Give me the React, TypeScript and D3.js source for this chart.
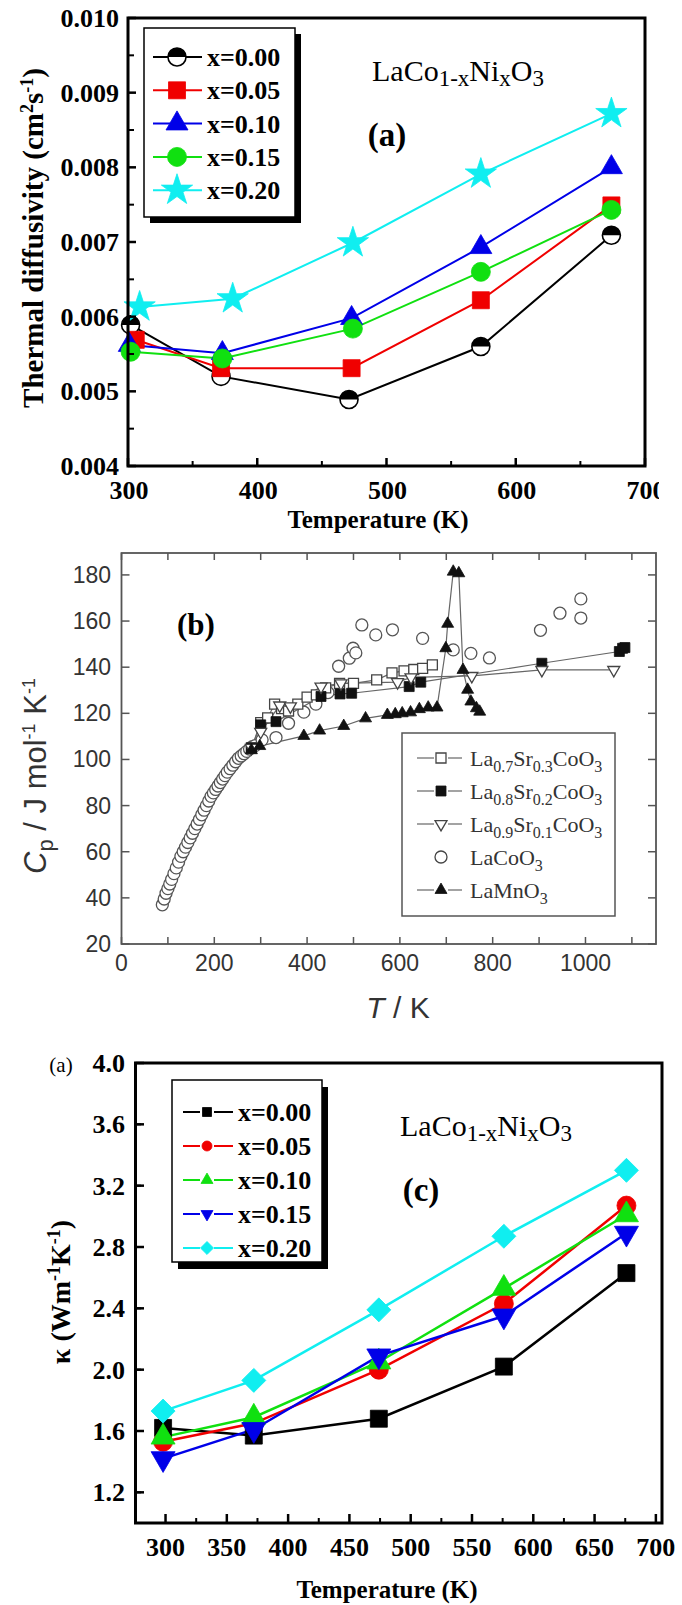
import React from "react";
import * as d3 from "d3";

// ---------- Panel (a): thermal diffusivity ----------
const legendA = ["x=0.00", "x=0.05", "x=0.10", "x=0.15", "x=0.20"];
const tempA00 = [302, 372, 471, 573, 674];
const diffA00 = [0.00589, 0.0052, 0.00489, 0.0056, 0.00709];
const tempA05 = [306, 372, 473, 573, 674];
const diffA05 = [0.00569, 0.00531, 0.00531, 0.00622, 0.00749];
const tempA10 = [301, 373, 473, 573, 674];
const diffA10 = [0.00562, 0.00551, 0.00598, 0.00693, 0.008];
const tempA15 = [302, 373, 474, 573, 674];
const diffA15 = [0.00553, 0.00544, 0.00584, 0.0066, 0.00743];
const tempA20 = [309, 381, 474, 573, 674];
const diffA20 = [0.00613, 0.00624, 0.00699, 0.00791, 0.00872];
const xTicksA = [300, 400, 500, 600, 700];
const yTicksA = [0.004, 0.005, 0.006, 0.007, 0.008, 0.009, 0.01];

// ---------- Panel (b): heat capacity ----------
const legendB = ["La0.7Sr0.3CoO3", "La0.8Sr0.2CoO3", "La0.9Sr0.1CoO3", "LaCoO3", "LaMnO3"];
const tLaCo = [88, 92, 96, 100, 104, 108, 113, 118, 123, 128, 133, 138, 143, 148, 153, 158, 163, 168, 173, 178, 183, 188, 193, 198, 203, 208, 213, 218, 223, 228, 234, 240, 246, 252, 258, 264, 270, 276, 282, 288,
  303, 333, 360, 393, 419, 445, 468, 491, 499, 505, 518, 548, 584, 649, 715, 753, 793, 903, 945, 990, 990];
const cpLaCo = [37, 39.5, 42, 44, 46, 48, 50.5, 53, 55.5, 58, 60, 62, 64, 66, 68, 70, 72, 74, 76, 78, 80, 82, 84, 85.5, 87, 88.5, 90, 91.5, 93, 94.5, 96, 97.5, 99, 100.5, 101.5, 102.5, 103.5, 104.5, 105.5, 106,
  108.5, 109.5, 115.7, 120.5, 124, 129, 140.4, 143.9, 148.2, 146.2, 158.3, 154, 156.2, 152.5, 147.5, 146, 144, 156, 163.4, 161.3, 169.6];
const tSr3 = [280, 300, 315, 330, 345, 360, 380, 400, 420, 440, 470, 500, 550, 583, 609, 630, 649, 670];
const cpSr3 = [105, 116, 118, 124, 122, 121, 124, 127, 128, 131, 133, 133, 134.5, 137.5, 138.4, 139, 139.5, 141];
const tSr2 = [280, 300, 333, 430, 471, 496, 620, 645, 906, 1073, 1080, 1085];
const cpSr2 = [105, 115, 116.4, 127.3, 128.4, 128.7, 131.6, 133.5, 141.7, 146.8, 148.2, 148.5];
const tSr1 = [280, 300, 341, 364, 430, 473, 595, 624, 755, 906, 1061];
const cpSr1 = [105, 112, 123.4, 123, 131.6, 133, 133.5, 135.6, 136.2, 138.8, 138.8];
const tMn = [280, 298, 393, 427, 479, 526, 573, 590, 605, 623, 642, 661, 680, 699, 703, 715, 727, 736, 746, 753, 765, 772];
const cpMn = [104, 105.8, 110.2, 112.5, 114.5, 117.8, 119.3, 119.6, 120, 120.4, 121.8, 122.5, 122.5, 148.2, 158.8, 181.4, 180.7, 138.8, 130.2, 125.1, 122.2, 120.7];
const xTicksB = [0, 100, 200, 300, 400, 500, 600, 700, 800, 900, 1000, 1100];
const xLabelsB = [0, 200, 400, 600, 800, 1000];
const yTicksB = [20, 40, 60, 80, 100, 120, 140, 160, 180];

// ---------- Panel (c): thermal conductivity ----------
const legendC = ["x=0.00", "x=0.05", "x=0.10", "x=0.15", "x=0.20"];
const tempC = [298, 372, 474, 576, 676];
const kC00 = [1.62, 1.57, 1.68, 2.02, 2.63];
const kC05 = [1.53, 1.65, 2.0, 2.43, 3.07];
const kC10 = [1.56, 1.69, 2.05, 2.53, 3.01];
const kC15 = [1.42, 1.61, 2.09, 2.35, 2.89];
const kC20 = [1.73, 1.93, 2.39, 2.87, 3.3];
const xTicksC = [300, 350, 400, 450, 500, 550, 600, 650, 700];
const yTicksC = [1.2, 1.6, 2.0, 2.4, 2.8, 3.2, 3.6, 4.0];

const SERIF = "'Liberation Serif', 'Times New Roman', serif";
const SANS = "'Liberation Sans', Arial, sans-serif";

const RED = "#f00000";
const BLUE = "#0000e8";
const GREEN = "#10e010";
const CYAN = "#10eef0";

type Mk = "halfcircle" | "square" | "triangle" | "circle" | "star" | "diamond" | "down" | "osquare" | "odown" | "ocircle";

function Marker({ kind, x, y, s, color }: { kind: Mk; x: number; y: number; s: number; color: string }) {
  const tr = `translate(${x},${y})`;
  if (kind === "halfcircle") {
    const r = s / 2;
    return (
      <g transform={tr}>
        <circle r={r} fill="#fff" stroke="#000" strokeWidth={1.6} />
        <path d={`M${-r},0 A${r},${r} 0 0 1 ${r},0 Z`} fill="#000" />
      </g>
    );
  }
  const sym: Record<string, any> = {
    square: d3.symbolSquare, osquare: d3.symbolSquare, triangle: d3.symbolTriangle,
    circle: d3.symbolCircle, ocircle: d3.symbolCircle, star: d3.symbolStar,
    diamond: d3.symbolSquare, down: d3.symbolTriangle, odown: d3.symbolTriangle,
  };
  let area = s * s;
  if (kind === "circle" || kind === "ocircle") area = Math.PI * (s / 2) * (s / 2);
  if (kind === "triangle" || kind === "down" || kind === "odown") area = (Math.sqrt(3) / 4) * s * s;
  if (kind === "star") area = s * s * 0.45;
  if (kind === "diamond") area = s * s * 0.5;
  const d = d3.symbol(sym[kind], area)() as string;
  const rot = kind === "diamond" ? 45 : kind === "down" || kind === "odown" ? 180 : 0;
  const open = kind === "osquare" || kind === "odown" || kind === "ocircle";
  return (
    <path
      d={d}
      transform={`${tr} rotate(${rot})`}
      fill={open ? "#fff" : color}
      stroke={color}
      strokeWidth={open ? 1.3 : 0.8}
    />
  );
}

function PanelA() {
  const x = d3.scaleLinear().domain([300, 700]).range([128, 645]);
  const y = d3.scaleLinear().domain([0.004, 0.01]).range([466, 18]);
  const series = [
    { t: tempA00, v: diffA00, c: "#000", m: "halfcircle" as Mk, s: 18 },
    { t: tempA05, v: diffA05, c: RED, m: "square" as Mk, s: 17 },
    { t: tempA10, v: diffA10, c: BLUE, m: "triangle" as Mk, s: 22 },
    { t: tempA15, v: diffA15, c: GREEN, m: "circle" as Mk, s: 19 },
    { t: tempA20, v: diffA20, c: CYAN, m: "star" as Mk, s: 26 },
  ];
  const line = d3.line<number>();
  const minorX = d3.range(350, 700, 100);
  const minorY = d3.range(0.0045, 0.0099, 0.001);
  return (
    <g fontFamily={SERIF}>
      <defs>
        <clipPath id="clipA">
          <rect x={0} y={0} width={659} height={540} />
        </clipPath>
      </defs>
      {series.map((s, i) => (
        <path key={"l" + i} d={line(s.t.map((t, j) => [x(t), y(s.v[j])]) as any) as string} fill="none" stroke={s.c} strokeWidth={2} />
      ))}
      {series.map((s, i) => (
        <g key={"m" + i}>
          {s.t.map((t, j) => (
            <Marker key={j} kind={s.m} x={x(t)} y={y(s.v[j])} s={s.s} color={s.c} />
          ))}
        </g>
      ))}
      <rect x={128} y={18} width={517} height={448} fill="none" stroke="#000" strokeWidth={3} />
      <g clipPath="url(#clipA)">
        {xTicksA.map((t) => (
          <g key={t}>
            <line x1={x(t)} x2={x(t)} y1={466} y2={458} stroke="#000" strokeWidth={2.5} />
            <text x={x(t) + 1} y={499} textAnchor="middle" fontWeight="bold" fontSize={26}>{t}</text>
          </g>
        ))}
      </g>
      {minorX.map((t) => (
        <line key={t} x1={x(t)} x2={x(t)} y1={466} y2={461} stroke="#000" strokeWidth={2} />
      ))}
      {yTicksA.map((v) => (
        <g key={v}>
          <line x1={128} x2={136} y1={y(v)} y2={y(v)} stroke="#000" strokeWidth={2.5} />
          <text x={119} y={y(v) + 9} textAnchor="end" fontWeight="bold" fontSize={26}>{v.toFixed(3)}</text>
        </g>
      ))}
      {minorY.map((v) => (
        <line key={v} x1={128} x2={134} y1={y(v)} y2={y(v)} stroke="#000" strokeWidth={2} />
      ))}
      <text transform="translate(43,238) rotate(-90)" textAnchor="middle" fontWeight="bold" fontSize={29}>
        Thermal diffusivity  (cm<tspan dy={-10} fontSize={18}>2</tspan><tspan dy={10}>s</tspan><tspan dy={-10} fontSize={18}>-1</tspan><tspan dy={10}>)</tspan>
      </text>
      <text x={378} y={528} textAnchor="middle" fontWeight="bold" fontSize={25}>Temperature (K)</text>
      <text x={372} y={81} fontSize={30}>
        LaCo<tspan fontSize={23} dy={5}>1-x</tspan><tspan dy={-5}>Ni</tspan><tspan fontSize={23} dy={5}>x</tspan><tspan dy={-5}>O</tspan><tspan fontSize={23} dy={5}>3</tspan>
      </text>
      <text x={387} y={146} textAnchor="middle" fontWeight="bold" fontSize={33}>(a)</text>
      {/* legend */}
      <rect x={150} y={34} width={151} height={189} fill="#000" />
      <rect x={144} y={28} width={151} height={189} fill="#fff" stroke="#000" strokeWidth={1.5} />
      {series.map((s, i) => {
        const yy = 57 + i * 33.3;
        return (
          <g key={"lg" + i}>
            <line x1={153} x2={202} y1={yy} y2={yy} stroke={s.c} strokeWidth={2} />
            <Marker kind={s.m} x={177} y={yy} s={s.s} color={s.c} />
            <text x={207} y={yy + 9} fontWeight="bold" fontSize={26}>{legendA[i]}</text>
          </g>
        );
      })}
    </g>
  );
}

function Formula({ x, y, label }: { x: number; y: number; label: string }) {
  // render digits after element symbols as subscripts
  const parts = label.match(/[A-Z][a-z]?|[0-9.]+/g) || [];
  return (
    <text x={x} y={y} fontSize={22} fill="#333" fontFamily={SERIF}>
      {parts.map((p, i) => {
        const sub = /^[0-9.]+$/.test(p);
        const prevSub = i > 0 && /^[0-9.]+$/.test(parts[i - 1]);
        let dy = 0;
        if (sub && !prevSub) dy = 6;
        if (!sub && prevSub) dy = -6;
        return (
          <tspan key={i} dy={dy} fontSize={sub ? 16 : 22}>{p}</tspan>
        );
      })}
    </text>
  );
}

function PanelB() {
  const x = d3.scaleLinear().domain([0, 1152]).range([121.5, 656]);
  const y = d3.scaleLinear().domain([20, 189.5]).range([944, 553]);
  const line = d3.line<number>();
  const GRAY = "#555";
  const lined = [
    { t: tSr3, v: cpSr3, m: "osquare" as Mk, s: 10 },
    { t: tSr2, v: cpSr2, m: "square" as Mk, s: 10 },
    { t: tSr1, v: cpSr1, m: "odown" as Mk, s: 12 },
    { t: tMn, v: cpMn, m: "triangle" as Mk, s: 12 },
  ];
  const legendMk: Mk[] = ["osquare", "square", "odown", "ocircle", "triangle"];
  const legendS = [10, 10, 12, 12, 12];
  return (
    <g fontFamily={SANS}>
      {lined.map((s, i) => (
        <path key={"l" + i} d={line(s.t.map((t, j) => [x(t), y(s.v[j])]) as any) as string} fill="none" stroke="#666" strokeWidth={1.2} />
      ))}
      {tLaCo.map((t, j) => (
        <Marker key={"c" + j} kind="ocircle" x={x(t)} y={y(cpLaCo[j])} s={12} color="#555" />
      ))}
      {lined.map((s, i) => (
        <g key={"m" + i}>
          {s.t.map((t, j) => (
            <Marker key={j} kind={s.m} x={x(t)} y={y(s.v[j])} s={s.s} color={s.m === "square" || s.m === "triangle" ? "#111" : "#444"} />
          ))}
        </g>
      ))}
      <rect x={121.5} y={553} width={534.5} height={391} fill="none" stroke={GRAY} strokeWidth={1.8} />
      {xTicksB.map((t) => (
        <g key={t}>
          <line x1={x(t)} x2={x(t)} y1={944} y2={937} stroke={GRAY} strokeWidth={1.5} />
          <line x1={x(t)} x2={x(t)} y1={553} y2={560} stroke={GRAY} strokeWidth={1.5} />
        </g>
      ))}
      {xLabelsB.map((t) => (
        <text key={t} x={x(t)} y={971} textAnchor="middle" fontSize={23} fill="#333">{t}</text>
      ))}
      {yTicksB.map((v) => (
        <g key={v}>
          <line x1={121.5} x2={129.5} y1={y(v)} y2={y(v)} stroke={GRAY} strokeWidth={1.5} />
          <line x1={656} x2={648} y1={y(v)} y2={y(v)} stroke={GRAY} strokeWidth={1.5} />
          <text x={111} y={y(v) + 8} textAnchor="end" fontSize={23} fill="#333">{v}</text>
        </g>
      ))}
      <text transform="translate(46,776) rotate(-90)" textAnchor="middle" fontSize={31} fill="#333">
        <tspan fontStyle="italic">C</tspan><tspan fontSize={22} dy={7}>p</tspan><tspan dy={-7}> / J mol</tspan><tspan fontSize={18} dy={-11}>-1</tspan><tspan dy={11}> K</tspan><tspan fontSize={18} dy={-11}>-1</tspan>
      </text>
      <text x={398} y={1018} textAnchor="middle" fontSize={30} fill="#333">
        <tspan fontStyle="italic">T</tspan> / K
      </text>
      <text x={196} y={635} textAnchor="middle" fontWeight="bold" fontSize={31} fontFamily={SERIF}>(b)</text>
      <rect x={402} y={733} width={213} height={183} fill="#fff" stroke={GRAY} strokeWidth={1.5} />
      {legendB.map((lab, i) => {
        const yy = 758 + i * 33;
        return (
          <g key={i}>
            {i !== 3 && <line x1={417} x2={434} y1={yy} y2={yy} stroke="#666" strokeWidth={1.2} />}
            {i !== 3 && <line x1={448} x2={462} y1={yy} y2={yy} stroke="#666" strokeWidth={1.2} />}
            <Marker kind={legendMk[i]} x={441} y={yy} s={legendS[i]} color={i === 1 || i === 4 ? "#111" : "#444"} />
            <Formula x={470} y={yy + 8} label={lab} />
          </g>
        );
      })}
    </g>
  );
}

function PanelC() {
  const x = d3.scaleLinear().domain([275.5, 705]).range([135.5, 662]);
  const y = d3.scaleLinear().domain([1.0, 4.0]).range([1523, 1063]);
  const series = [
    { v: kC00, c: "#000", m: "square" as Mk, s: 17, ls: 9 },
    { v: kC05, c: RED, m: "circle" as Mk, s: 19, ls: 10 },
    { v: kC10, c: GREEN, m: "triangle" as Mk, s: 24, ls: 12 },
    { v: kC15, c: BLUE, m: "down" as Mk, s: 24, ls: 12 },
    { v: kC20, c: CYAN, m: "diamond" as Mk, s: 24, ls: 13 },
  ];
  const line = d3.line<number>();
  const minorX = d3.range(325, 700, 50);
  const minorY = d3.range(1.0, 4.0, 0.4);
  return (
    <g fontFamily={SERIF}>
      {series.map((s, i) => (
        <path key={"l" + i} d={line(tempC.map((t, j) => [x(t), y(s.v[j])]) as any) as string} fill="none" stroke={s.c} strokeWidth={2.5} />
      ))}
      {series.map((s, i) => (
        <g key={"m" + i}>
          {tempC.map((t, j) => (
            <Marker key={j} kind={s.m} x={x(t)} y={y(s.v[j])} s={s.s} color={s.c} />
          ))}
        </g>
      ))}
      <rect x={135.5} y={1063} width={526.5} height={460} fill="none" stroke="#000" strokeWidth={3} />
      {xTicksC.map((t) => (
        <g key={t}>
          <line x1={x(t)} x2={x(t)} y1={1523} y2={1514} stroke="#000" strokeWidth={2.5} />
          <text x={x(t)} y={1556} textAnchor="middle" fontWeight="bold" fontSize={26}>{t}</text>
        </g>
      ))}
      {minorX.map((t) => (
        <line key={t} x1={x(t)} x2={x(t)} y1={1523} y2={1518} stroke="#000" strokeWidth={2} />
      ))}
      {yTicksC.map((v) => (
        <g key={v}>
          <line x1={135.5} x2={144} y1={y(v)} y2={y(v)} stroke="#000" strokeWidth={2.5} />
          <text x={125} y={y(v) + 9} textAnchor="end" fontWeight="bold" fontSize={26}>{v.toFixed(1)}</text>
        </g>
      ))}
      {minorY.map((v) => (
        <line key={v} x1={135.5} x2={141} y1={y(v + 0.2)} y2={y(v + 0.2)} stroke="#000" strokeWidth={2} />
      ))}
      <text transform="translate(70,1292) rotate(-90)" textAnchor="middle" fontWeight="bold" fontSize={28}>
        κ (Wm<tspan dy={-10} fontSize={18}>-1</tspan><tspan dy={10}>K</tspan><tspan dy={-10} fontSize={18}>-1</tspan><tspan dy={10}>)</tspan>
      </text>
      <text x={387} y={1598} textAnchor="middle" fontWeight="bold" fontSize={25}>Temperature (K)</text>
      <text x={61} y={1072} textAnchor="middle" fontSize={21}>(a)</text>
      <text x={400} y={1136} fontSize={30}>
        LaCo<tspan fontSize={23} dy={5}>1-x</tspan><tspan dy={-5}>Ni</tspan><tspan fontSize={23} dy={5}>x</tspan><tspan dy={-5}>O</tspan><tspan fontSize={23} dy={5}>3</tspan>
      </text>
      <text x={421} y={1201} textAnchor="middle" fontWeight="bold" fontSize={33}>(c)</text>
      <rect x={178} y={1087} width={150} height={182} fill="#000" />
      <rect x={172} y={1080} width={150} height={182} fill="#fff" stroke="#000" strokeWidth={1.5} />
      {series.map((s, i) => {
        const yy = 1112 + i * 34;
        return (
          <g key={"lg" + i}>
            <line x1={183} x2={200} y1={yy} y2={yy} stroke={s.c} strokeWidth={2} />
            <line x1={214} x2={233} y1={yy} y2={yy} stroke={s.c} strokeWidth={2} />
            <Marker kind={s.m} x={207} y={yy} s={s.ls} color={s.c} />
            <text x={238} y={yy + 9} fontWeight="bold" fontSize={26}>{legendC[i]}</text>
          </g>
        );
      })}
    </g>
  );
}

export default function App() {
  return (
    <svg width={682} height={1605} style={{ position: "absolute", left: 0, top: 0, background: "#fff" }}>
      <rect width={682} height={1605} fill="#fff" />
      <PanelA />
      <PanelB />
      <PanelC />
    </svg>
  );
}
